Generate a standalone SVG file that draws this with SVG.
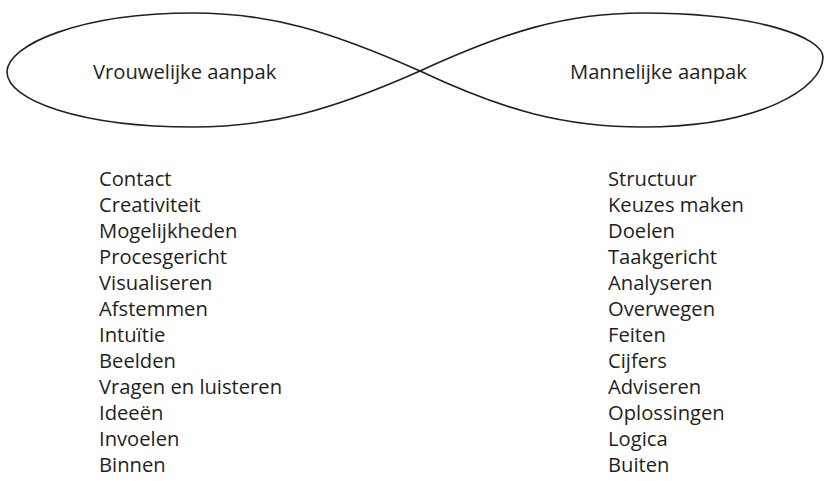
<svg xmlns="http://www.w3.org/2000/svg" width="826" height="481" viewBox="0 0 826 481">
  <style>
    .lobe { fill: none; stroke: #231f20; stroke-width: 1.6; }
    .lbl { font-family: "Open Sans", "Noto Sans", sans-serif; font-size: 20.2px; fill: #231f20; }
  </style>
  <rect width="826" height="481" fill="#ffffff"/>

  <!-- figure-eight outline, two lobes meeting at the crossing -->
  <g id="connectors">
    <path class="lobe" d="M420,71 C330,31 270,13 193,13 C80,13 7,45 7,72 C7,100 80,127 193,127 C270,127 330,111 420,71"/>
    <path class="lobe" d="M420,71 C505,32 565,13 643,13 C760,13 823,38 823,57 C823,88 760,127 643,127 C565,127 505,111 420,71"/>
  </g>

  <g id="node-vrouwelijk">
    <text class="lbl" x="93" y="79">Vrouwelijke aanpak</text>
  </g>
  <g id="node-mannelijk">
    <text class="lbl" x="570" y="79">Mannelijke aanpak</text>
  </g>

  <!-- left column, 26px line pitch -->
  <g id="list-vrouwelijk" class="lbl">
    <text x="99" y="186">Contact</text>
    <text x="99" y="212">Creativiteit</text>
    <text x="99" y="238">Mogelijkheden</text>
    <text x="99" y="264">Procesgericht</text>
    <text x="99" y="290">Visualiseren</text>
    <text x="99" y="316">Afstemmen</text>
    <text x="99" y="342">Intuïtie</text>
    <text x="99" y="368">Beelden</text>
    <text x="99" y="394">Vragen en luisteren</text>
    <text x="99" y="420">Ideeën</text>
    <text x="99" y="446">Invoelen</text>
    <text x="99" y="472">Binnen</text>
  </g>

  <!-- right column, same pitch -->
  <g id="list-mannelijk" class="lbl">
    <text x="608" y="186">Structuur</text>
    <text x="608" y="212">Keuzes maken</text>
    <text x="608" y="238">Doelen</text>
    <text x="608" y="264">Taakgericht</text>
    <text x="608" y="290">Analyseren</text>
    <text x="608" y="316">Overwegen</text>
    <text x="608" y="342">Feiten</text>
    <text x="608" y="368">Cijfers</text>
    <text x="608" y="394">Adviseren</text>
    <text x="608" y="420">Oplossingen</text>
    <text x="608" y="446">Logica</text>
    <text x="608" y="472">Buiten</text>
  </g>
</svg>
